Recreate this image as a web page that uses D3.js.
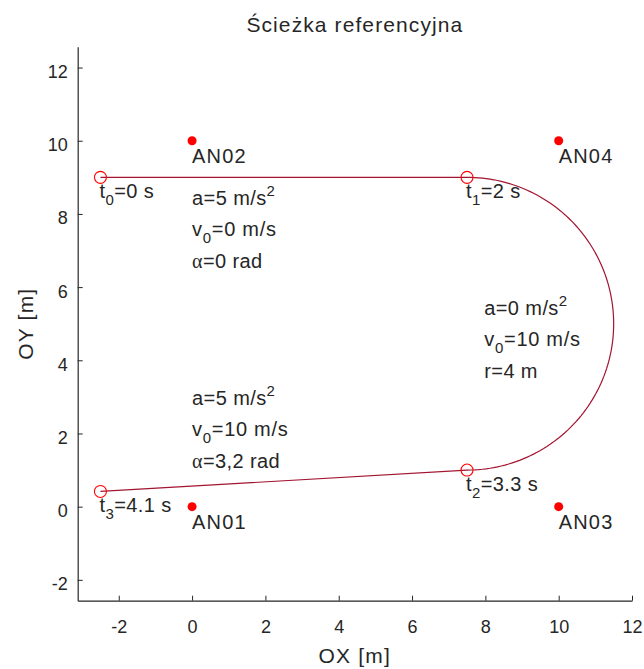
<!DOCTYPE html>
<html>
<head>
<meta charset="utf-8">
<script src="https://cdn.jsdelivr.net/npm/d3@7"></script>
<style>
html,body{margin:0;padding:0;background:#fff;}
svg text{font-family:"Liberation Sans",Arial,sans-serif;fill:#262626;}
</style>
</head>
<body>
<svg id="chart" width="644" height="669"></svg>
<script>
// ---- data ----
const titleText = "Ścieżka referencyjna";
const xLabel = "OX [m]";
const yLabel = "OY [m]";
const xTicks = [-2, 0, 2, 4, 6, 8, 10, 12];
const yTicks = [-2, 0, 2, 4, 6, 8, 10, 12];
const xDomain = [-3.12, 12];
const yDomain = [-2.57, 12.57];

// anchors
const anchorNames = ["AN01", "AN02", "AN03", "AN04"];
const anchorX = [0, 0, 10, 10];
const anchorY = [0, 10, 0, 10];

// time points on path
const tNames = ["0", "1", "2", "3"];
const tValues = ["0 s", "2 s", "3.3 s", "4.1 s"];
const tX = [-2.5, 7.5, 7.5, -2.5];
const tY = [9, 9, 1, 0.415];

// arc segment
const arcCenter = [7.5, 5];
const arcRadius = 4;

// segment annotations
const annX = [0, 7.97, 0];
const annY = [8.25, 5.24, 2.78];
const annA = ["5", "0", "5"];
const annV = ["0", "10", "10"];
const annThird = [["α", "=0 rad"], ["r", "=4 m"], ["α", "=3,2 rad"]];

// ---- layout ----
const svg = d3.select("#chart");
const x = d3.scaleLinear().domain(xDomain).range([77.7, 632]);
const y = d3.scaleLinear().domain(yDomain).range([600.7, 46.7]);
const axisColor = "#262626";

// axes
const gx = svg.append("g").attr("transform", `translate(0,${y(yDomain[0])})`)
  .call(d3.axisBottom(x).tickValues(xTicks).tickSizeInner(-5).tickSizeOuter(0).tickFormat(d => d));
const gy = svg.append("g").attr("transform", `translate(${x(xDomain[0])},0)`)
  .call(d3.axisLeft(y).tickValues(yTicks).tickSizeInner(-5).tickSizeOuter(0).tickFormat(d => d));
[gx, gy].forEach(g => {
  g.select(".domain").attr("stroke", axisColor).attr("stroke-width", 1.2);
  g.selectAll(".tick line").attr("stroke", axisColor).attr("stroke-width", 1);
  g.selectAll(".tick text").attr("fill", axisColor).style("font-size", "18px")
    .style("font-family", '"Liberation Sans",Arial,sans-serif');
});
gx.selectAll(".tick text").attr("y", 0).attr("dy", 0).attr("transform", "translate(0,32)");
gy.selectAll(".tick text").attr("x", -10).attr("dy", 0).attr("transform", "translate(0,10)");

// title and labels
svg.append("text").attr("x", (x.range()[0] + x.range()[1]) / 2).attr("y", 32)
  .attr("text-anchor", "middle").style("font-size", "21px").style("letter-spacing", "1.1px").text(titleText);
svg.append("text").attr("x", (x.range()[0] + x.range()[1]) / 2).attr("y", 663)
  .attr("text-anchor", "middle").style("font-size", "21px").style("letter-spacing", "1.2px").text(xLabel);
svg.append("text").attr("transform", `translate(33,${(y.range()[0] + y.range()[1]) / 2}) rotate(-90)`)
  .attr("text-anchor", "middle").style("font-size", "21px").style("letter-spacing", "1.2px").text(yLabel);

// path
const pathPts = [];
pathPts.push([tX[0], tY[0]]);
pathPts.push([tX[1], tY[1]]);
const nArc = 120;
for (let i = 0; i <= nArc; i++) {
  const a = Math.PI / 2 - Math.PI * i / nArc;
  pathPts.push([arcCenter[0] + arcRadius * Math.cos(a), arcCenter[1] + arcRadius * Math.sin(a)]);
}
pathPts.push([tX[3], tY[3]]);
svg.append("path").datum(pathPts)
  .attr("d", d3.line().x(d => x(d[0])).y(d => y(d[1])))
  .attr("fill", "none").attr("stroke", "#A2142F").attr("stroke-width", 1.2);

// time markers
svg.selectAll(".tm").data(tX).enter().append("circle")
  .attr("cx", (d, i) => x(tX[i])).attr("cy", (d, i) => y(tY[i])).attr("r", 6)
  .attr("fill", "none").attr("stroke", "#FF0000").attr("stroke-width", 1.1);

// time labels
tX.forEach((v, i) => {
  const t = svg.append("text").attr("x", x(tX[i]) - 1).attr("y", y(tY[i]) + 21)
    .style("font-size", "20px").style("letter-spacing", "0.4px");
  t.append("tspan").text("t");
  t.append("tspan").attr("dy", 7).style("font-size", "15px").text(tNames[i]);
  t.append("tspan").attr("dy", -7).text("=" + tValues[i]);
});

// anchors
svg.selectAll(".an").data(anchorX).enter().append("circle")
  .attr("cx", (d, i) => x(anchorX[i])).attr("cy", (d, i) => y(anchorY[i])).attr("r", 4.5)
  .attr("fill", "#FF0000");
anchorNames.forEach((n, i) => {
  svg.append("text").attr("x", x(anchorX[i])).attr("y", y(anchorY[i]) + 22)
    .style("font-size", "20px").style("letter-spacing", "1.2px").text(n);
});

// annotations
annX.forEach((v, i) => {
  const px = x(annX[i]), py = y(annY[i]);
  const l1 = svg.append("text").attr("x", px).attr("y", py).style("font-size", "20px").style("letter-spacing", "0.4px");
  l1.append("tspan").text("a=" + annA[i] + " m/s");
  l1.append("tspan").attr("dy", -9).style("font-size", "15px").text("2");
  const l2 = svg.append("text").attr("x", px).attr("y", py + 31).style("font-size", "20px").style("letter-spacing", "0.7px");
  l2.append("tspan").text("v");
  l2.append("tspan").attr("dy", 7).style("font-size", "15px").text("0");
  l2.append("tspan").attr("dy", -7).text("=" + annV[i] + " m/s");
  const l3 = svg.append("text").attr("x", px).attr("y", py + 63).style("font-size", "20px").style("letter-spacing", "0.4px");
  const sym = annThird[i][0];
  l3.append("tspan").style("font-family", sym === "α" ? '"Liberation Serif","DejaVu Serif",serif' : null).text(sym);
  l3.append("tspan").text(annThird[i][1]);
});
</script>
</body>
</html>
